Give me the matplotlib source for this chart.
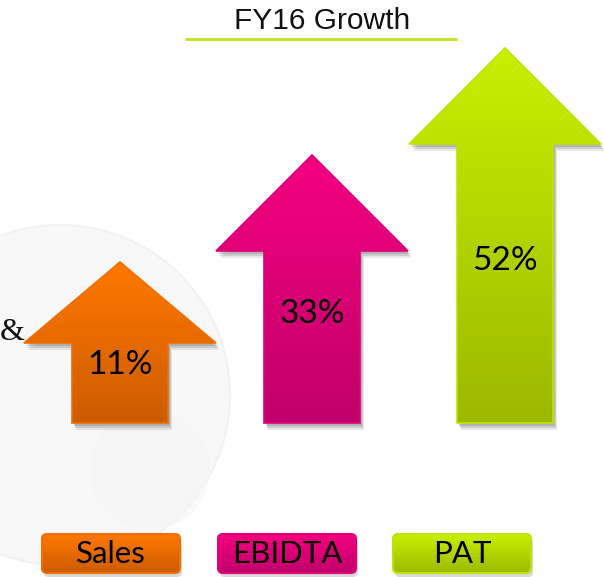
import numpy as np
import matplotlib
matplotlib.use("Agg")
from matplotlib import pyplot as plt
from matplotlib.patches import Polygon, FancyBboxPatch, Circle
from matplotlib.colors import LinearSegmentedColormap

# data
categories = ["Sales", "EBIDTA", "PAT"]
growth = [11, 33, 52]
labels = ["%d%%" % g for g in growth]
title = "FY16 Growth"

# colours (top, bottom, edge)
top_colors = ["#ff7800", "#f50080", "#c8f000"]
bottom_colors = ["#cc5c00", "#c0006a", "#9cb800"]
edge_colors = ["#f07000", "#e0007a", "#bde400"]

# layout in pixels (figure is 604 x 577)
W, H = 604, 577
centers = [120, 312, 505]
apex_y = [262, 155, 48]
head_base_y = [343, 251, 144]
bottom_y = 423
head_half = 96
shaft_half = 48
label_y = [365, 314, 261]
box_centers = [111, 287, 462]
box_y0, box_y1 = 534, 573
box_half = 69


def arrow_pts(cx, top, hb, bot):
    return [(cx, top), (cx + head_half, hb), (cx + shaft_half, hb),
            (cx + shaft_half, bot), (cx - shaft_half, bot),
            (cx - shaft_half, hb), (cx - head_half, hb)]


def grad_fill(ax, patch, x0, x1, y0, y1, c_top, c_bot, z):
    cmap = LinearSegmentedColormap.from_list("g", [c_top, c_bot])
    grad = np.linspace(0, 1, 256).reshape(-1, 1)
    im = ax.imshow(grad, cmap=cmap, aspect="auto", origin="upper",
                   extent=(x0, x1, y1, y0), zorder=z, interpolation="bicubic")
    im.set_clip_path(patch)


fig = plt.figure(figsize=(W / 100, H / 100), dpi=100)
ax = fig.add_axes([0, 0, 1, 1])
ax.set_axis_off()

# faint watermark behind
ax.add_patch(Circle((60, 395), 170, facecolor="#f8f8f8", edgecolor="#f2f2f2", lw=1.5, zorder=0))
ax.add_patch(Circle((150, 470), 60, facecolor="#f6f6f6", edgecolor="none", alpha=0.6, zorder=0))

# title and underline
ax.text(322, 21, title, ha="center", va="center", fontsize=21.5,
        family="Liberation Sans", color="#111111")
ax.plot([185, 457], [39, 39], color="#c3e01a", lw=2, solid_capstyle="butt")

ax.text(0, 332, "&", ha="left", va="center", fontsize=23, family="Liberation Serif", color="#111111")

for i, cat in enumerate(categories):
    cx = centers[i]
    pts = arrow_pts(cx, apex_y[i], head_base_y[i], bottom_y)
    # soft shadow
    for off, a in [((4, 7), 0.18), ((3, 5), 0.25), ((2, 3), 0.35)]:
        sh = [(x + off[0], y + off[1]) for x, y in pts]
        ax.add_patch(Polygon(sh, closed=True, facecolor="#808080", edgecolor="none", alpha=a, zorder=2))
    poly = Polygon(pts, closed=True, facecolor="none", edgecolor=edge_colors[i], lw=1.2, zorder=4)
    ax.add_patch(poly)
    clip = Polygon(pts, closed=True, facecolor="none", edgecolor="none")
    ax.add_patch(clip)
    grad_fill(ax, clip, cx - head_half, cx + head_half, apex_y[i], bottom_y,
              top_colors[i], bottom_colors[i], 3)
    ax.text(cx, label_y[i], labels[i], ha="center", va="center", fontsize=24,
            family="Lato", color="#000000", zorder=5)

    # legend box
    bc = box_centers[i]
    bx0, bx1 = bc - box_half, bc + box_half
    sh_box = FancyBboxPatch((bx0 + 2, box_y0 + 4), bx1 - bx0, box_y1 - box_y0,
                            boxstyle="round,pad=0,rounding_size=5",
                            facecolor="#909090", edgecolor="none", alpha=0.35, zorder=2)
    ax.add_patch(sh_box)
    box = FancyBboxPatch((bx0, box_y0), bx1 - bx0, box_y1 - box_y0,
                         boxstyle="round,pad=0,rounding_size=5",
                         facecolor="none", edgecolor=edge_colors[i], lw=1.5, zorder=4)
    ax.add_patch(box)
    grad_fill(ax, box, bx0, bx1, box_y0, box_y1, top_colors[i], bottom_colors[i], 3)
    ax.text(bc, 554, cat, ha="center", va="center", fontsize=22.5,
            family="Lato", color="#000000", zorder=5)

ax.set_xlim(0, W)
ax.set_ylim(H, 0)
fig.savefig("out.png", dpi=100)
